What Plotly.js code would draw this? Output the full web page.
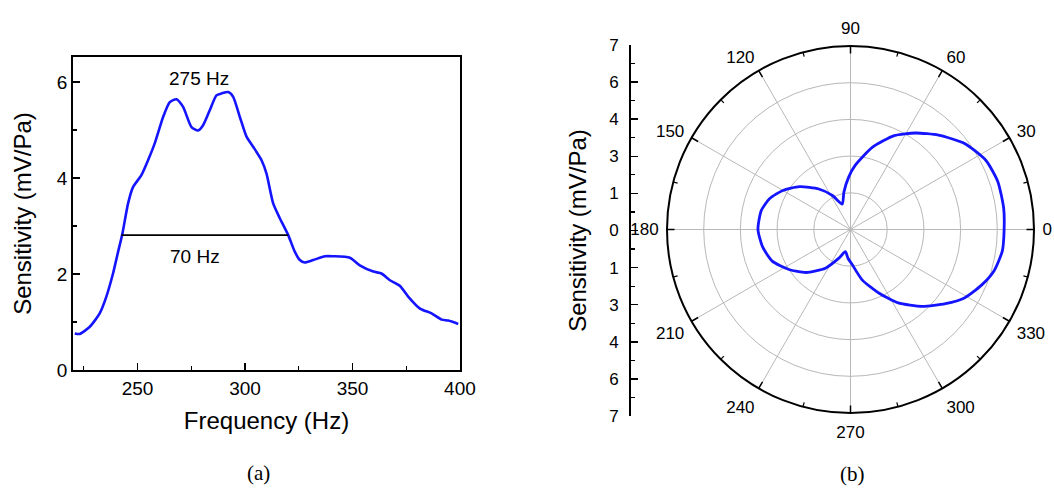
<!DOCTYPE html>
<html>
<head>
<meta charset="utf-8">
<script src="https://cdn.plot.ly/plotly-3.0.1.min.js"></script>
<style>html,body{margin:0;padding:0;background:#fff;}#chart{width:1054px;height:488px;}</style>
</head>
<body>
<div id="chart"></div>
<script>
// (a) frequency response
const freq = [220.8,223.1,227.8,232.4,235.5,238.6,240.9,243.0,245.6,247.9,251.8,254.9,258.0,261.9,265.0,268.1,271.2,275.1,278.2,280.5,283.6,286.7,289.0,292.2,294.5,297.6,300.7,303.8,307.7,310.0,313.1,316.2,320.1,323.2,325.5,327.8,331.7,337.2,341.0,348.8,353.4,359.7,363.5,367.4,372.1,375.9,381.4,386.8,391.5,394.6,399.2];
const sens = [0.76,0.75,0.90,1.18,1.53,2.01,2.45,2.85,3.47,3.81,4.06,4.37,4.72,5.27,5.58,5.64,5.48,5.06,4.99,5.10,5.41,5.72,5.76,5.79,5.69,5.27,4.86,4.65,4.37,4.09,3.47,3.16,2.81,2.46,2.29,2.24,2.29,2.37,2.37,2.34,2.18,2.05,2.01,1.87,1.75,1.53,1.28,1.18,1.05,1.03,0.96];
const fwhmX = [242.5, 320.1];
const fwhmY = [2.81, 2.81];
const peakLabel = '275 Hz';
const bandLabel = '70 Hz';

// (b) directivity pattern
const theta = [0,8,18,27,37,47,56,65,75,86,92,100,108,118,128,140,150,159,168,180,191,202,213,224,237,248,257,265,273,283,294,303,313,322,329,337,344,352,360];
const rPattern = [5.86,5.90,5.91,5.80,5.45,4.92,4.44,3.95,3.25,2.44,2.00,1.45,1.02,1.47,1.96,2.54,2.98,3.30,3.48,3.53,3.42,3.22,2.80,2.36,1.76,1.18,0.87,1.10,1.35,1.97,2.65,3.34,4.01,4.60,5.07,5.43,5.70,5.85,5.86];
const angTicks = [0,30,60,90,120,150,180,210,240,270,300,330];
const angMinor = [15,45,75,105,135,165,195,225,255,285,315,345];
const radialRings = [1.4,2.8,4.2,5.6,7];
const sideTickVals = [-7,-5.6,-4.2,-2.8,-1.4,0,1.4,2.8,4.2,5.6,7];
const sideTickText = ['7','6','4','3','1','0','1','3','4','6','7'];

const BLUE = 'rgb(20,20,255)';
const GRID = '#b8b8b8';
const FONT = 'Liberation Sans, Arial, sans-serif';
const SERIF = 'Liberation Serif, Times New Roman, serif';
const POLAR_DOMAIN = {x:[667/1054, 1034/1054], y:[1-416/488, 1-43/488]};

const traces = [
  {type:'scatter', x:freq, y:sens, mode:'lines', line:{color:BLUE, width:2.6, shape:'spline', smoothing:0.6}, xaxis:'x', yaxis:'y', showlegend:false},
  {type:'scatter', x:fwhmX, y:fwhmY, mode:'lines', line:{color:'black', width:1.8}, xaxis:'x', yaxis:'y', hoverinfo:'skip', showlegend:false},
  // placeholder so the side radial scale axis gets drawn
  {type:'scatter', x:[null], y:[null], mode:'lines', xaxis:'x2', yaxis:'y2', hoverinfo:'skip', showlegend:false},
  {type:'scatterpolar', r:rPattern, theta:theta, mode:'lines', line:{color:BLUE, width:2.8, shape:'spline', smoothing:0.6}, subplot:'polar', showlegend:false},
  // placeholders so the tick-only polar layers get drawn
  {type:'scatterpolar', r:[null], theta:[null], mode:'lines', subplot:'polar2', hoverinfo:'skip', showlegend:false},
  {type:'scatterpolar', r:[null], theta:[null], mode:'lines', subplot:'polar3', hoverinfo:'skip', showlegend:false}
];

const axCommon = {showline:true, linecolor:'black', linewidth:1.8, mirror:true, ticks:'inside', ticklen:7, tickwidth:1.5, tickcolor:'black', showgrid:false, zeroline:false, tickfont:{size:19, color:'black', family:FONT}};

const layout = {
  width:1054, height:488,
  margin:{l:0, r:0, t:0, b:0},
  paper_bgcolor:'white', plot_bgcolor:'white',
  font:{family:FONT, color:'black'},
  showlegend:false,
  xaxis:Object.assign({}, axCommon, {
    domain:[0.0693, 0.4364], range:[220,400], tick0:250, dtick:50,
    minor:{dtick:25, tick0:225, ticks:'inside', ticklen:4, tickwidth:1.2, tickcolor:'black'},
    title:{text:'Frequency (Hz)', font:{size:24, family:FONT}, standoff:14},
    anchor:'y'
  }),
  yaxis:Object.assign({}, axCommon, {
    domain:[0.2418, 0.8832], range:[0,6.52], tick0:0, dtick:2,
    minor:{dtick:1, tick0:0, ticks:'inside', ticklen:4, tickwidth:1.2, tickcolor:'black'},
    title:{text:'Sensitivity (mV/Pa)', font:{size:24, family:FONT}, standoff:18},
    anchor:'x'
  }),
  xaxis2:{domain:[631/1054, 633/1054], range:[0,1], visible:false, anchor:'y2', fixedrange:true},
  yaxis2:{domain:[1-416/488, 1-45/488], range:[-7,7], anchor:'x2', side:'left', showline:true, linecolor:'black', linewidth:1.8,
    tickmode:'array', tickvals:sideTickVals, ticktext:sideTickText, ticks:'inside', ticklen:7, tickwidth:1.5, tickcolor:'black',
    minor:{tick0:0, dtick:0.7, ticks:'inside', ticklen:4, tickwidth:1.2, tickcolor:'black'},
    ticklabelstandoff:7,
    showgrid:false, zeroline:false, tickfont:{size:17, color:'black', family:FONT}, fixedrange:true,
    title:{text:'Sensitivity (mV/Pa)', font:{size:24, family:FONT}, standoff:16}
  },
  polar:{
    domain:POLAR_DOMAIN,
    bgcolor:'white',
    radialaxis:{range:[0,7], tickmode:'array', tickvals:radialRings, showticklabels:false, ticks:'', showline:false, gridcolor:GRID, gridwidth:1},
    angularaxis:{direction:'counterclockwise', rotation:0, tickmode:'array', tickvals:angTicks, ticktext:angTicks.map(String),
      ticks:'outside', ticklen:4, tickwidth:1, tickcolor:'rgba(0,0,0,0)', showline:true, linecolor:'black', linewidth:2,
      gridcolor:GRID, gridwidth:1, tickfont:{size:17, color:'black', family:FONT}}
  },
  polar2:{
    domain:POLAR_DOMAIN,
    bgcolor:'rgba(0,0,0,0)',
    radialaxis:{range:[0,7], visible:false},
    angularaxis:{direction:'counterclockwise', rotation:0, tickmode:'array', tickvals:angTicks, showticklabels:false,
      ticks:'inside', ticklen:7, tickwidth:1.5, tickcolor:'black', showline:false, showgrid:false}
  },
  polar3:{
    domain:POLAR_DOMAIN,
    bgcolor:'rgba(0,0,0,0)',
    radialaxis:{range:[0,7], visible:false},
    angularaxis:{direction:'counterclockwise', rotation:0, tickmode:'array', tickvals:angMinor, showticklabels:false,
      ticks:'inside', ticklen:4, tickwidth:1.2, tickcolor:'black', showline:false, showgrid:false}
  },
  annotations:[
    {text:peakLabel, x:278.5, y:6.08, xref:'x', yref:'y', xanchor:'center', yanchor:'middle', showarrow:false, font:{size:19, family:FONT, color:'black'}},
    {text:bandLabel, x:276.6, y:2.36, xref:'x', yref:'y', xanchor:'center', yanchor:'middle', showarrow:false, font:{size:19, family:FONT, color:'black'}},
    {text:'(a)', x:258/1054, y:1-473/488, xref:'paper', yref:'paper', xanchor:'center', yanchor:'middle', showarrow:false, font:{size:21, family:SERIF, color:'black'}},
    {text:'(b)', x:852/1054, y:1-474/488, xref:'paper', yref:'paper', xanchor:'center', yanchor:'middle', showarrow:false, font:{size:21, family:SERIF, color:'black'}}
  ]
};

Plotly.newPlot('chart', traces, layout, {displayModeBar:false, staticPlot:true});
</script>
</body>
</html>
